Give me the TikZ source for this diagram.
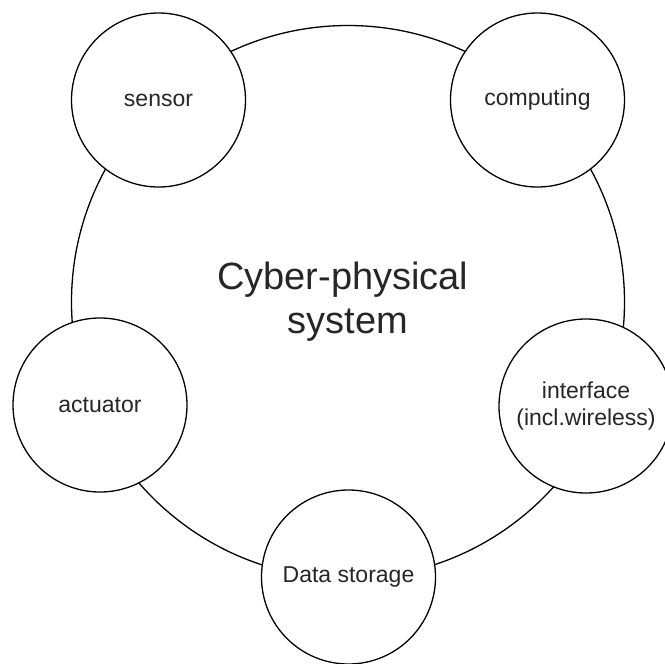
\documentclass[tikz,border=0pt]{standalone}
\usepackage{fontspec}
\setmainfont{Liberation Sans}
\begin{document}
\begin{tikzpicture}[x=1pt,y=-1pt,
  ring/.style={circle,draw=black,line width=1.3pt,inner sep=0pt,minimum size=553pt,
    font=\fontsize{38}{44}\selectfont,align=center,text=black!85},
  part/.style={circle,draw=black,line width=1.3pt,fill=white,inner sep=0pt,minimum size=174pt,
    font=\fontsize{23}{27}\selectfont,align=center,text=black!85}]
\useasboundingbox (0,0) rectangle (665,664);
\node[ring] (cps) at (348,302) {Cyber-physical\hspace*{10.5pt}\\system};
\node[part] (sensor) at (158.5,100) {sensor};
\node[part] (computing) at (537.5,100) {computing};
\node[part] (actuator) at (100,405) {actuator};
\node[part] (interface) at (586,406) {interface\\(incl.wireless)};
\node[part] (storage) at (348.5,577) {Data storage};
\end{tikzpicture}
\end{document}
